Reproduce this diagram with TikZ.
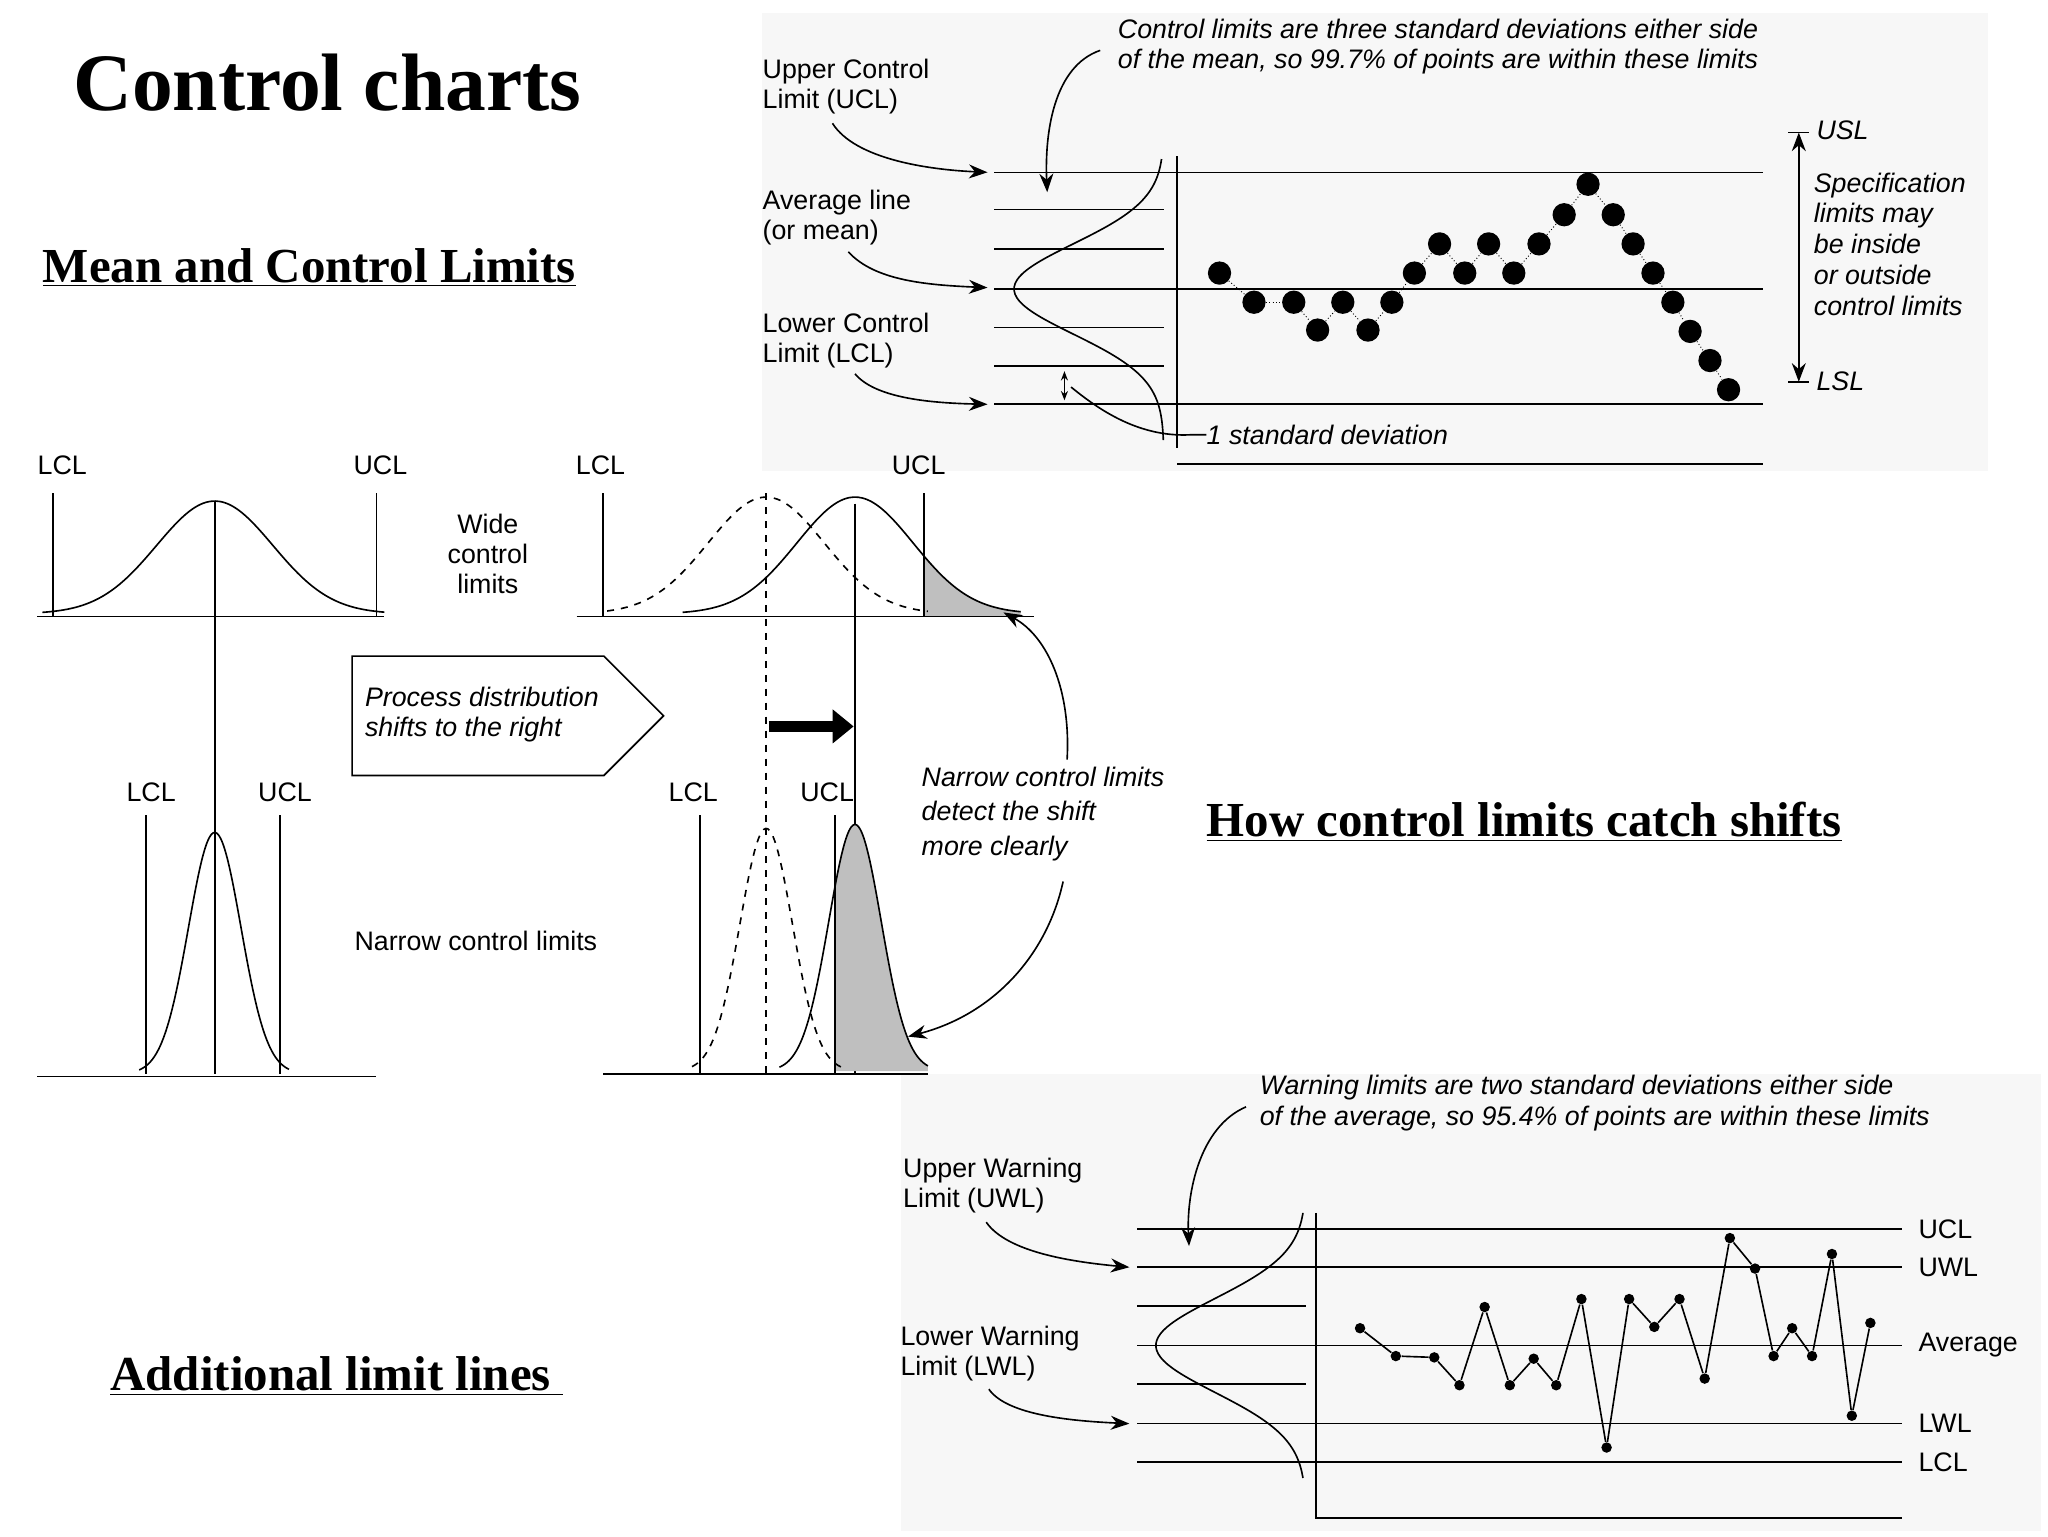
\documentclass[tikz,border=0pt]{standalone}
\usepackage{fontspec}
\setmainfont{Liberation Serif}
\newfontfamily\chartsf{Liberation Sans}
\usetikzlibrary{arrows.meta,shapes.arrows}
\begin{document}
\begin{tikzpicture}[x=0.02cm,y=-0.02cm,
  lab/.style={font=\chartsf\fontsize{11.5}{13}\selectfont,align=left,inner sep=0},
  ital/.style={lab,font=\chartsf\itshape\fontsize{11.5}{13}\selectfont},
  head/.style={font=\bfseries\fontsize{21}{23}\selectfont,inner sep=0},
  ln/.style={line width=0.7pt},
  arr/.style={ln,-{Stealth[length=8pt,width=6pt]}},
  dot/.style={circle,fill=black,inner sep=0,minimum size=10pt},
  sdot/.style={circle,fill=black,inner sep=0,minimum size=4.5pt}]
\useasboundingbox (0,0) rectangle (1545,1159);
\fill[black!3] (575,10) rectangle (1500,355);
\fill[black!3] (680,810) rectangle (1540,1155);
% titles
\node[head,font=\bfseries\fontsize{35}{37}\selectfont,anchor=west] (t) at (55,62) {Control charts};
\node[head,anchor=west] (h1) at (32,202) {\underline{Mean and Control Limits}};
\node[head,anchor=west] (h2) at (910,620) {\underline{How control limits catch shifts}};
\node[head,anchor=west] (h3) at (83,1038) {\underline{Additional limit lines\ }};
% ===== top chart
\foreach \y in {130,218,305} \draw[ln] (750,\y) -- (1330,\y);
\foreach \y in {158,188,247,276} \draw[ln] (750,\y) -- (878,\y);
\draw[ln] (888,350) -- (1330,350);
\draw[ln] (888,118) -- (888,338);
\draw[ln] plot[domain=120:332,samples=80,smooth] ({878-113*exp(-((\x-218)/48)^2)},\x);
\foreach \i/\p in {1/{920,206},2/{946,228},3/{976,228},4/{994,249},5/{1013,228},6/{1032,249},7/{1050,228},8/{1067,206},9/{1086,184},10/{1105,206},11/{1123,184},12/{1142,206},13/{1161,184},14/{1180,162},15/{1198,139},16/{1217,162},17/{1232,184},18/{1247,206},19/{1262,228},20/{1275,250},21/{1290,272},22/{1304,294}}
  \node[dot] (p\i) at (\p) {};
\foreach \i [evaluate=\i as \j using int(\i+1)] in {1,...,21} \draw[densely dotted] (p\i) -- (p\j);
\node[lab,anchor=north west] (ucl) at (575,44) {Upper Control\\Limit (UCL)};
\node[lab,anchor=north west] (avg) at (575,143) {Average line\\(or mean)};
\node[lab,anchor=north west] (lcl) at (575,236) {Lower Control\\Limit (LCL)};
\coordinate (a1) at (745,130); \coordinate (a2) at (745,217); \coordinate (a3) at (745,305);
\draw[arr] (628,93) .. controls (645,120) and (700,128) .. (a1);
\draw[arr] (640,190) .. controls (660,212) and (700,215) .. (a2);
\draw[arr] (645,282) .. controls (660,300) and (700,304) .. (a3);
\node[ital,anchor=north west] (cl) at (843,14) {Control limits are three standard deviations either side\\of the mean, so 99.7\% of points are within these limits};
\coordinate (a4) at (790,145);
\draw[arr] (830,38) .. controls (795,50) and (788,100) .. (a4);
\coordinate (s1) at (803,280); \coordinate (s2) at (803,302);
\draw[{Stealth[length=4pt]}-{Stealth[length=4pt]},ln] (s1) -- (s2);
\node[ital,anchor=west] (sd) at (910,328) {1 standard deviation};
\draw[ln] (sd.west) -- ++(-12,0) .. controls (860,330) and (830,310) .. (808,292);
\coordinate (u1) at (1357,100); \coordinate (u2) at (1357,288);
\draw[ln,{Stealth[length=8pt]}-{Stealth[length=8pt]}] (u1) -- (u2);
\draw[ln] (1349,100) -- (1365,100) (1349,288) -- (1365,288);
\node[ital,anchor=west] (usl) at (1370,98) {USL};
\node[ital,anchor=west] (lsl) at (1370,288) {LSL};
\node[ital,anchor=north west,font=\chartsf\itshape\fontsize{11.5}{13.2}\selectfont] (spec) at (1368,130) {Specification\\limits may\\be inside\\or outside\\control limits};
% ===== shift section
\draw[ln] (28,465) -- (290,465);
\draw[ln] (40,372) -- (40,465) (284,372) -- (284,465);
\draw[ln] (162,378) -- (162,810);
\draw[ln] plot[domain=32:290,samples=80,smooth] (\x,{463-85*exp(-((\x-162)/62)^2)});
\node[lab] (l1) at (47,351) {LCL}; \node[lab] (u1l) at (287,351) {UCL};
\node[lab,align=center] (wide) at (368,418) {Wide\\control\\limits};
\draw[ln] (28,812) -- (284,812);
\draw[ln] (110,615) -- (110,810) (211,615) -- (211,810);
\draw[ln] plot[domain=105:218,samples=80,smooth] (\x,{810-182*exp(-((\x-162)/28)^2)});
\node[lab] (l2) at (114,598) {LCL}; \node[lab] (u2l) at (215,598) {UCL};
\node[lab] (nar) at (359,710) {Narrow control limits};
\node[single arrow,draw,ln,minimum height=4.7cm,minimum width=1.8cm,single arrow head extend=0pt,inner sep=0,anchor=west,shape border uses incircle] (big) at (265,540) {};
\node[ital,anchor=west] (pd) at (275,539) {Process distribution\\shifts to the right};
% right wide
\fill[black!25] plot[domain=697:770,samples=40,smooth] (\x,{463-88*exp(-((\x-645)/62)^2)}) -- (770,465) -- (697,465) -- cycle;
\draw[ln] (435,465) -- (780,465);
\draw[ln] (455,372) -- (455,465) (697,372) -- (697,465);
\draw[ln,dashed] (578,372) -- (578,810);
\draw[ln] (645,380) -- (645,810);
\draw[ln,dashed] plot[domain=458:700,samples=80,smooth] (\x,{463-88*exp(-((\x-578)/62)^2)});
\draw[ln] plot[domain=515:770,samples=80,smooth] (\x,{463-88*exp(-((\x-645)/62)^2)});
\node[lab] (l3) at (453,351) {LCL}; \node[lab] (u3) at (693,351) {UCL};
% right narrow
\fill[black!25] plot[domain=630:700,samples=40,smooth] (\x,{808-186*exp(-((\x-645)/28)^2)}) -- (700,808) -- (630,808) -- cycle;
\draw[ln] (455,810) -- (700,810);
\draw[ln] (528,615) -- (528,810) (630,615) -- (630,810);
\draw[ln,dashed] plot[domain=522:635,samples=80,smooth] (\x,{808-183*exp(-((\x-578)/28)^2)});
\draw[ln] plot[domain=588:700,samples=80,smooth] (\x,{808-186*exp(-((\x-645)/28)^2)});
\node[lab] (l4) at (523,598) {LCL}; \node[lab] (u4) at (624,598) {UCL};
\coordinate (t1) at (580,548); \coordinate (t2) at (644,548);
\draw[line width=5pt,-{Triangle[length=9pt,width=14pt]}] (t1) -- (t2);
\node[ital,anchor=north west,font=\chartsf\itshape\fontsize{11.5}{15}\selectfont] (nc) at (695,578) {Narrow control limits\\detect the shift\\more clearly};
\coordinate (c1) at (757,462); \coordinate (c2) at (685,782);
\draw[arr] (805,573) .. controls (808,520) and (790,480) .. (c1);
\draw[arr] (802,665) .. controls (790,720) and (750,765) .. (c2);
% ===== bottom chart
\foreach \y/\t in {927/UCL,956/UWL,1015/Average,1074/LWL,1103/LCL}
  {\draw[ln] (858,\y) -- (1435,\y); \node[lab,anchor=west] at (1447,\y) {\t};}
\foreach \y in {985,1044} \draw[ln] (858,\y) -- (985,\y);
\draw[ln] (993,915) -- (993,1145) -- (1435,1145);
\draw[ln] plot[domain=915:1115,samples=80,smooth] ({985-113*exp(-((\x-1015)/50)^2)},\x);
\foreach \i/\p in {1/{1026,1002},2/{1053,1023},3/{1082,1024},4/{1101,1045},5/{1120,986},6/{1139,1045},7/{1157,1025},8/{1174,1045},9/{1193,980},10/{1212,1092},11/{1229,980},12/{1248,1001},13/{1267,980},14/{1286,1040},15/{1305,934},16/{1324,957},17/{1338,1023},18/{1352,1002},19/{1367,1023},20/{1382,946},21/{1397,1068},22/{1411,998}}
  \node[sdot] (q\i) at (\p) {};
\foreach \i [evaluate=\i as \j using int(\i+1)] in {1,...,21} \draw[ln] (q\i) -- (q\j);
\node[lab,anchor=north west] (uwl) at (681,873) {Upper Warning\\Limit (UWL)};
\node[lab,anchor=north west] (lwl) at (679,1000) {Lower Warning\\Limit (LWL)};
\coordinate (b1) at (852,956); \coordinate (b2) at (852,1074);
\draw[arr] (744,922) .. controls (760,945) and (810,952) .. (b1);
\draw[arr] (746,1048) .. controls (760,1068) and (810,1072) .. (b2);
\node[ital,anchor=north west] (wl) at (950,811) {Warning limits are two standard deviations either side\\of the average, so 95.4\% of points are within these limits};
\coordinate (b3) at (897,940);
\draw[arr] (940,835) .. controls (905,850) and (895,900) .. (b3);
\end{tikzpicture}
\end{document}
